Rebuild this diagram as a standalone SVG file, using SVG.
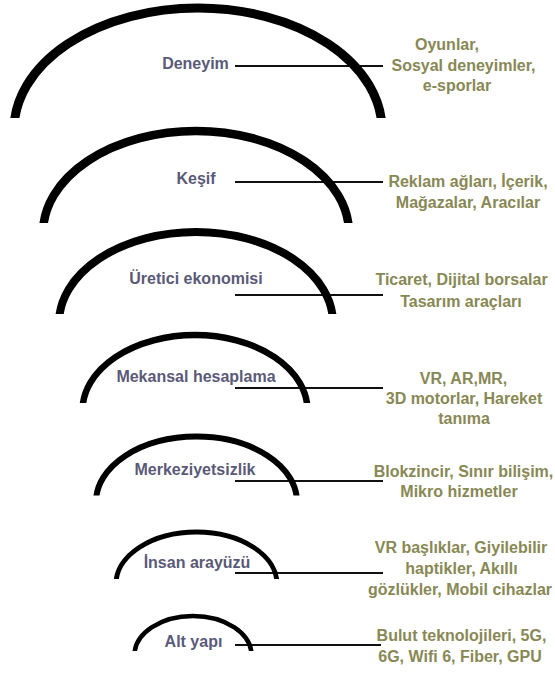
<svg xmlns="http://www.w3.org/2000/svg" width="555" height="673" viewBox="0 0 555 673">
  <style>
    .arc { fill: none; stroke: #000; }
    .lbl { font-family: "Liberation Sans", Arial, sans-serif; font-weight: bold; font-size: 16px; fill: #5a5a78; text-anchor: middle; }
    .det { font-family: "Liberation Sans", Arial, sans-serif; font-weight: bold; font-size: 16px; fill: #888855; text-anchor: middle; }
    .con { stroke: #111; stroke-width: 1.8; fill: none; }
  </style>
  <defs>
    <clipPath id="c1"><rect x="0" y="0" width="555" height="118"/></clipPath>
    <clipPath id="c2"><rect x="0" y="0" width="555" height="223"/></clipPath>
    <clipPath id="c3"><rect x="0" y="0" width="555" height="314"/></clipPath>
    <clipPath id="c4"><rect x="0" y="0" width="555" height="403"/></clipPath>
    <clipPath id="c5"><rect x="0" y="0" width="555" height="495.5"/></clipPath>
    <clipPath id="c6"><rect x="0" y="0" width="555" height="579"/></clipPath>
    <clipPath id="c7"><rect x="0" y="0" width="555" height="651"/></clipPath>
  </defs>
  <rect width="555" height="673" fill="#fff"/>

  <g id="connectors">
    <line class="con" x1="235" y1="66" x2="383" y2="66"/>
    <line class="con" x1="235" y1="182" x2="383" y2="182"/>
    <line class="con" x1="235" y1="295" x2="383" y2="295"/>
    <line class="con" x1="235" y1="388" x2="383" y2="388"/>
    <line class="con" x1="235" y1="481" x2="383" y2="481"/>
    <line class="con" x1="235" y1="573" x2="383" y2="573"/>
    <line class="con" x1="235" y1="645" x2="381" y2="645"/>
  </g>

  <g id="node-deneyim">
    <ellipse class="arc" clip-path="url(#c1)" cx="198" cy="130" rx="184" ry="122" stroke-width="9"/>
    <text class="lbl" x="195.5" y="69">Deneyim</text>
  </g>
  <g id="node-kesif">
    <ellipse class="arc" clip-path="url(#c2)" cx="196" cy="233" rx="153" ry="102" stroke-width="8.5"/>
    <text class="lbl" x="196" y="184">Keşif</text>
  </g>
  <g id="node-uretici">
    <ellipse class="arc" clip-path="url(#c3)" cx="196" cy="323" rx="137" ry="91" stroke-width="8"/>
    <text class="lbl" x="196" y="284">Üretici ekonomisi</text>
  </g>
  <g id="node-mekansal">
    <ellipse class="arc" clip-path="url(#c4)" cx="195" cy="410.4" rx="112.5" ry="75.4" stroke-width="6.5"/>
    <text class="lbl" x="196" y="382">Mekansal hesaplama</text>
  </g>
  <g id="node-merkeziyetsizlik">
    <ellipse class="arc" clip-path="url(#c5)" cx="196.5" cy="502" rx="100.5" ry="65.4" stroke-width="6"/>
    <text class="lbl" x="195" y="475">Merkeziyetsizlik</text>
  </g>
  <g id="node-insan">
    <ellipse class="arc" clip-path="url(#c6)" cx="196.5" cy="584" rx="80.5" ry="52" stroke-width="5"/>
    <text class="lbl" x="197" y="568">İnsan arayüzü</text>
  </g>
  <g id="node-altyapi">
    <ellipse class="arc" clip-path="url(#c7)" cx="193" cy="655" rx="58.5" ry="39" stroke-width="4.5"/>
    <text class="lbl" x="193.5" y="647">Alt yapı</text>
  </g>

  <g id="detail-deneyim">
    <text class="det" x="447" y="50">Oyunlar,</text>
    <text class="det" x="463.5" y="71">Sosyal deneyimler,</text>
    <text class="det" x="457" y="91">e-sporlar</text>
  </g>
  <g id="detail-kesif">
    <text class="det" x="468" y="187">Reklam ağları, İçerik,</text>
    <text class="det" x="468" y="208">Mağazalar, Aracılar</text>
  </g>
  <g id="detail-uretici">
    <text class="det" x="461.5" y="285">Ticaret, Dijital borsalar</text>
    <text class="det" x="461" y="307">Tasarım araçları</text>
  </g>
  <g id="detail-mekansal">
    <text class="det" x="463.5" y="384">VR, AR,MR,</text>
    <text class="det" x="464" y="404">3D motorlar, Hareket</text>
    <text class="det" x="464" y="424">tanıma</text>
  </g>
  <g id="detail-merkeziyetsizlik">
    <text class="det" x="463.5" y="477">Blokzincir, Sınır bilişim,</text>
    <text class="det" x="459" y="497">Mikro hizmetler</text>
  </g>
  <g id="detail-insan">
    <text class="det" x="461" y="553">VR başlıklar, Giyilebilir</text>
    <text class="det" x="461.5" y="574">haptikler, Akıllı</text>
    <text class="det" x="460" y="595">gözlükler, Mobil cihazlar</text>
  </g>
  <g id="detail-altyapi">
    <text class="det" x="461.5" y="641">Bulut teknolojileri, 5G,</text>
    <text class="det" x="460" y="662">6G, Wifi 6, Fiber, GPU</text>
  </g>
</svg>
